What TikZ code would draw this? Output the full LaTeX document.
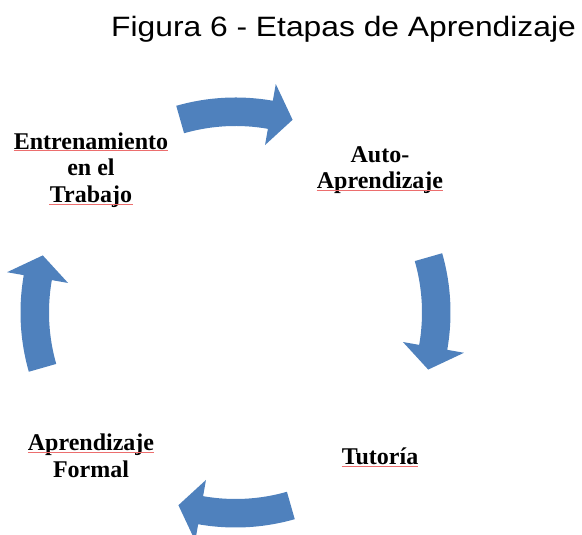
\documentclass[tikz,border=0pt]{standalone}
\usepackage{graphicx}
\usepackage{fontspec}
\setmainfont{Liberation Serif}
\newfontfamily\titlefont{Liberation Sans}
\usetikzlibrary{calc}

\definecolor{arrowblue}{RGB}{79,129,189}
\definecolor{spellred}{RGB}{236,110,110}

\begin{document}
\begin{tikzpicture}[x=1pt, y=1pt,
stage/.style={font=\fontsize{24}{26.5}\selectfont\bfseries, align=center, inner sep=0},
heading/.style={font=\titlefont\fontsize{28}{32}\selectfont, inner sep=0, anchor=base west},
stagearrow/.style={fill=arrowblue},
spell/.style={draw=spellred, line width=0.5pt},
]
\useasboundingbox (0,0) rectangle (582,535);

% Centre of the cycle and the four stage places
\coordinate (centre) at (235.5,222.5);
\coordinate (place1) at ($(centre)+(-144.5,142.5)$);  % Top-left
\coordinate (place2) at ($(centre)+(144.5,142.5)$);   % Top-right
\coordinate (place3) at ($(centre)+(144.5,-143.5)$);  % Bottom-right
\coordinate (place4) at ($(centre)+(-144.5,-143.5)$); % Bottom-left

% Title
\node[heading] (title) at (111,498.3) {\scalebox{1.135}[1]{Figura 6 - Etapas de Aprendizaje}};

% Stages
\node[stage] (training) at (place1) {Entrenamiento\\en el\\Trabajo};
\node[stage] (self) at (place2) {Auto-\\Aprendizaje};
\node[stage] (tutoring) at (place3) {Tutoría};
\node[stage] (formal) at (place4) {Aprendizaje\\Formal};

% Spell-check lines under the words
\draw[spell] ($(training.north west)+(0,-18)$) -- ($(training.north east)+(0,-18)$);
\draw[spell] ($(training.south)+(-42,3.7)$) -- ($(training.south)+(42,3.7)$);
\draw[spell] ($(self.south west)+(0,3.7)$) -- ($(self.south east)+(0,3.7)$);
\draw[spell] ($(tutoring.south west)+(0,-1.5)$) -- ($(tutoring.south east)+(0,-1.5)$);
\draw[spell] ($(formal.north west)+(0,-18)$) -- ($(formal.north east)+(0,-18)$);

% Curved arrows, one per quarter, clockwise
\foreach \turn in {0,-90,-180,-270}
  \fill[stagearrow, shift={(centre)}, rotate=\turn]
    (106:215) arc[start angle=106, end angle=80, radius=215]
    -- (80:232) -- (73.5:201) -- (80:170) -- (80:186.5)
    arc[start angle=80, end angle=106, radius=186.5] -- cycle;

\end{tikzpicture}
\end{document}
